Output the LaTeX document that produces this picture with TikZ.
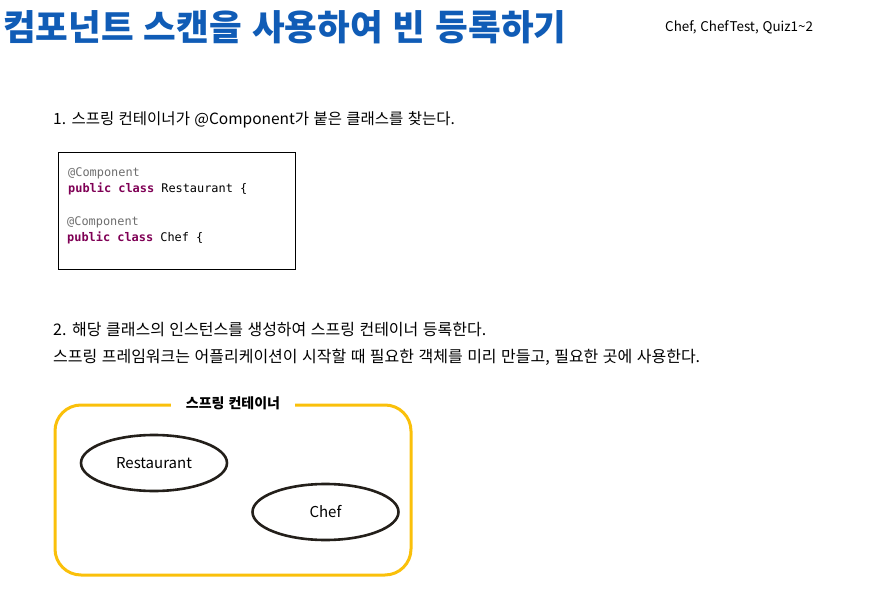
\documentclass[tikz,border=0pt]{standalone}
\usepackage{fontspec}
\setmainfont{Noto Sans CJK KR}[WordSpace=1.25]
\newfontfamily\codefont{DejaVu Sans Mono}
\usetikzlibrary{positioning,shapes.geometric}
\definecolor{titleblue}{RGB}{16,92,182}
\definecolor{springyellow}{RGB}{250,192,10}
\definecolor{kwpurple}{RGB}{127,0,85}
\definecolor{annogray}{RGB}{110,110,110}
\definecolor{beanline}{RGB}{35,31,26}
\newcommand{\kw}[1]{\textcolor{kwpurple}{\bfseries #1}}

\begin{document}
\begin{tikzpicture}[
  x=1pt,y=-1pt,
  txt/.style={anchor=west,inner sep=0pt,font=\fontsize{16}{19}\selectfont},
  code/.style={anchor=west,inner sep=0pt,font=\codefont\fontsize{11.9}{14}\selectfont},
  codebox/.style={draw,line width=0.8pt,minimum width=237pt,minimum height=117pt},
  container/.style={draw=springyellow,line width=3pt,rounded corners=26pt,minimum width=356pt,minimum height=170pt},
  bean/.style={ellipse,draw=beanline,line width=2.6pt,minimum width=146pt,minimum height=56pt,inner sep=0pt,font=\fontsize{15}{18}\selectfont}
]
\useasboundingbox (0,0) rectangle (871,607);
\node[anchor=west,inner sep=0pt,text=titleblue,font=\fontsize{35.5}{40}\selectfont\bfseries] (title) at (3,27)
  {컴포넌트 스캔을 사용하여 빈 등록하기};
\node[anchor=west,inner sep=0pt,font=\fontsize{13.4}{16}\selectfont] (proj) at (665,27)
  {Chef, ChefTest, Quiz1\textasciitilde2};
\node[txt,font=\fontsize{15.5}{18}\selectfont] (step1) at (53,120) {1. 스프링 컨테이너가 @Component가 붙은 클래스를 찾는다.};
\node[codebox] (src) at (176.5,210.5) {};
\node[code,text=annogray] (ann1) at (68,173) {@Component};
\node[code] (cls1) at (68,189) {\kw{public} \kw{class} Restaurant \{};
\node[code,text=annogray] (ann2) at (67,222) {@Component};
\node[code] (cls2) at (67,238) {\kw{public} \kw{class} Chef \{};
\node[txt] (step2) at (53,330) {2. 해당 클래스의 인스턴스를 생성하여 스프링 컨테이너 등록한다.};
\node[txt] (note) at (53,357) {스프링 프레임워크는 어플리케이션이 시작할 때 필요한 객체를 미리 만들고, 필요한 곳에 사용한다.};
\node[container] (ctx) at (233,490) {};
\node[fill=white,inner xsep=15pt,inner ysep=2pt,font=\fontsize{14}{16}\selectfont\bfseries] (ctxlabel) at (ctx.north) {스프링 컨테이너};
\node[bean] (restaurant) at (154,463) {Restaurant};
\node[bean] (chef) at (325.5,512) {Chef};
\end{tikzpicture}
\end{document}
